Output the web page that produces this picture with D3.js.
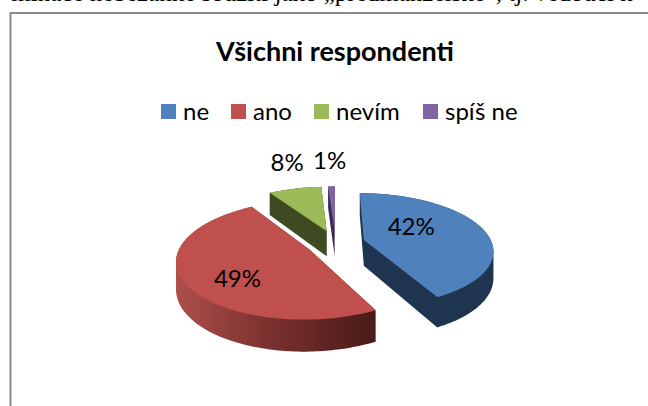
<!DOCTYPE html>
<html><head><meta charset="utf-8">
<script src="https://cdnjs.cloudflare.com/ajax/libs/d3/7.8.5/d3.min.js"></script>
<style>html,body{margin:0;padding:0;background:#fff;overflow:hidden}svg{display:block}</style>
</head><body><svg id="c" width="648" height="406"></svg>
<script>
const categories = ["ne","ano","nevím","spíš ne"];
const values = [42.4,48.6,8,1];
const labels = ["42%","49%","8%","1%"];
const topColors = ["#4F81BD","#C0504D","#9BBB59","#8064A2"];
const sideColors = ["#1F344F","url(#redSide)","#3E4A21","#3A2C55"];
const labelFrac = [0.38,0.42,0.63,0.5];
const labelRad = [0.47,0.68,1.74,1.72];
const chartTitle = "Všichni respondenti";
const clippedLine = "minace nebezanke soužití jako „předmanželské“, tj. vedoucí k";

const svg = d3.select("#c");
const defs = svg.append("defs");
const g = defs.append("linearGradient").attr("id","redSide").attr("gradientUnits","userSpaceOnUse")
  .attr("x1",176).attr("x2",371).attr("y1",0).attr("y2",0);
g.append("stop").attr("offset",0).attr("stop-color","#AD4F4B");
g.append("stop").attr("offset",0.45).attr("stop-color","#7E3230");
g.append("stop").attr("offset",1).attr("stop-color","#4B1B19");

svg.append("text").text(clippedLine).attr("x",322).attr("y",1).attr("text-anchor","middle")
  .attr("font-family","Liberation Serif").attr("font-size",25).attr("fill","#000");
svg.append("path").attr("d","M10.5,406V13H648").attr("fill","none").attr("stroke","#8a8a8a").attr("stroke-width",2);

svg.append("text").text(chartTitle).attr("x",335).attr("y",61).attr("text-anchor","middle")
  .attr("font-family","Lato").attr("font-weight",700).attr("font-size",27).attr("fill","#000");

const legendX = d3.scaleOrdinal().domain(categories).range([161,231,314,423]);
const leg = svg.append("g").selectAll("g").data(categories).join("g")
  .attr("transform",d=>`translate(${legendX(d)},104)`);
leg.append("rect").attr("width",15).attr("height",15).attr("fill",(d,i)=>topColors[i]);
leg.append("text").text(d=>d).attr("x",22).attr("y",16).attr("font-family","Lato").attr("font-size",24).attr("fill","#000");

const cx=335.5, cy=243, R=128, tilt=0.435, persp=0.17, depth=26, explode=0.23;
const project=(px,py,down=0)=>{const s=1/(1-py*persp);return [cx+R*px*s, cy+R*tilt*py*s+down*s];};
const arcs=d3.pie().sort(null).value(d=>d)(values);
const line=d3.line();
const root=svg.append("g");
arcs.forEach((a,i)=>{
  const mid=(a.startAngle+a.endAngle)/2;
  const ox=explode*Math.sin(mid), oy=-explode*Math.cos(mid);
  const n=Math.max(2,Math.ceil((a.endAngle-a.startAngle)/0.02));
  const ang=d3.range(n+1).map(k=>a.startAngle+(a.endAngle-a.startAngle)*k/n);
  const rim=ang.map(t=>[ox+Math.sin(t),oy-Math.cos(t)]);
  const top=[[ox,oy],...rim].map(p=>project(p[0],p[1]));
  const bottom=[[ox,oy],...rim].map(p=>project(p[0],p[1],depth));
  const slice=root.append("g");
  const hull=d3.polygonHull(top.concat(bottom));
  slice.append("path").attr("d",line(hull)+"Z").attr("fill",sideColors[i]);
  slice.append("path").attr("d",line(top)+"Z").attr("fill",topColors[i]);
  const mt=a.startAngle+(a.endAngle-a.startAngle)*labelFrac[i];
  const lp=project(ox+labelRad[i]*Math.sin(mt),oy-labelRad[i]*Math.cos(mt));
  root.append("text").datum(labels[i]).text(d=>d)
    .attr("x",lp[0]).attr("y",lp[1]+8).attr("text-anchor","middle")
    .attr("font-family","Lato").attr("font-size",24).attr("fill","#000");
});
</script></body></html>
